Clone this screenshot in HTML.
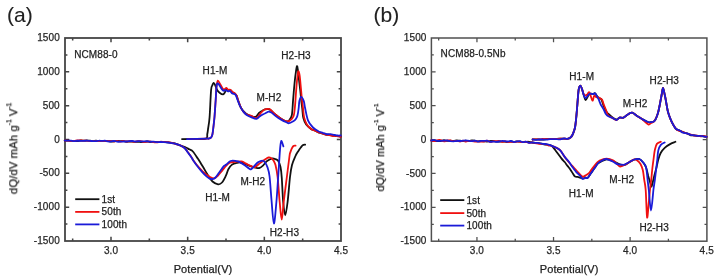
<!DOCTYPE html>
<html><head><meta charset="utf-8"><title>dQ/dV</title>
<style>html,body{margin:0;padding:0;background:#fff;}body{width:717px;height:280px;overflow:hidden;}svg{display:block;}text{will-change:transform;stroke:#222;stroke-width:0.25px;letter-spacing:0.1px}.big{stroke-width:0.1px;letter-spacing:0}</style>
</head><body>
<svg width="717" height="280" viewBox="0 0 717 280" font-family='"Liberation Sans", sans-serif'>
<rect width="717" height="280" fill="#fff"/>
<text class="big" x="7" y="22.2" font-size="21" fill="#222">(a)</text>
<text class="big" x="373.5" y="21.8" font-size="21" fill="#222">(b)</text>
<rect x="65.00" y="38.00" width="276.00" height="203.00" fill="none" stroke="#454545" stroke-width="1.8"/>
<path d="M72.67,241.00 v-2.4 M72.67,38.00 v2.4 M111.00,241.00 v-4.2 M111.00,38.00 v4.2 M149.33,241.00 v-2.4 M149.33,38.00 v2.4 M187.67,241.00 v-4.2 M187.67,38.00 v4.2 M226.00,241.00 v-2.4 M226.00,38.00 v2.4 M264.33,241.00 v-4.2 M264.33,38.00 v4.2 M302.67,241.00 v-2.4 M302.67,38.00 v2.4 M65.00,54.92 h2.4 M341.00,54.92 h-2.4 M65.00,71.83 h4.2 M341.00,71.83 h-4.2 M65.00,88.75 h2.4 M341.00,88.75 h-2.4 M65.00,105.67 h4.2 M341.00,105.67 h-4.2 M65.00,122.58 h2.4 M341.00,122.58 h-2.4 M65.00,139.50 h4.2 M341.00,139.50 h-4.2 M65.00,156.42 h2.4 M341.00,156.42 h-2.4 M65.00,173.33 h4.2 M341.00,173.33 h-4.2 M65.00,190.25 h2.4 M341.00,190.25 h-2.4 M65.00,207.17 h4.2 M341.00,207.17 h-4.2 M65.00,224.08 h2.4 M341.00,224.08 h-2.4" stroke="#454545" stroke-width="1.53" fill="none"/>
<text x="59.8" y="41.1" text-anchor="end" fill="#2a2a2a" font-size="10">1500</text>
<text x="59.8" y="74.9" text-anchor="end" fill="#2a2a2a" font-size="10">1000</text>
<text x="59.8" y="108.8" text-anchor="end" fill="#2a2a2a" font-size="10">500</text>
<text x="59.8" y="142.6" text-anchor="end" fill="#2a2a2a" font-size="10">0</text>
<text x="59.8" y="176.4" text-anchor="end" fill="#2a2a2a" font-size="10">-500</text>
<text x="59.8" y="210.3" text-anchor="end" fill="#2a2a2a" font-size="10">-1000</text>
<text x="59.8" y="244.1" text-anchor="end" fill="#2a2a2a" font-size="10">-1500</text>
<text x="111.0" y="253.6" text-anchor="middle" fill="#2a2a2a" font-size="10">3.0</text>
<text x="187.7" y="253.6" text-anchor="middle" fill="#2a2a2a" font-size="10">3.5</text>
<text x="264.3" y="253.6" text-anchor="middle" fill="#2a2a2a" font-size="10">4.0</text>
<text x="341.0" y="253.6" text-anchor="middle" fill="#2a2a2a" font-size="10">4.5</text>
<text x="203.0" y="272.6" text-anchor="middle" fill="#222" font-size="11">Potential(V)</text>
<text transform="translate(17.2,148.4) rotate(-90)" text-anchor="middle" fill="#222" font-size="11.3">dQ/dV mAh g<tspan font-size="6.3" dy="-5.6">-1</tspan><tspan dy="5.6"> V</tspan><tspan font-size="6.3" dy="-5.6">-1</tspan></text>
<rect x="431.40" y="38.00" width="275.50" height="203.20" fill="none" stroke="#505050" stroke-width="1.5"/>
<path d="M438.66,241.20 v-2.4 M438.66,38.00 v2.4 M476.95,241.20 v-4.2 M476.95,38.00 v4.2 M515.24,241.20 v-2.4 M515.24,38.00 v2.4 M553.53,241.20 v-4.2 M553.53,38.00 v4.2 M591.83,241.20 v-2.4 M591.83,38.00 v2.4 M630.12,241.20 v-4.2 M630.12,38.00 v4.2 M668.41,241.20 v-2.4 M668.41,38.00 v2.4 M431.40,54.93 h2.4 M706.90,54.93 h-2.4 M431.40,71.87 h4.2 M706.90,71.87 h-4.2 M431.40,88.80 h2.4 M706.90,88.80 h-2.4 M431.40,105.73 h4.2 M706.90,105.73 h-4.2 M431.40,122.67 h2.4 M706.90,122.67 h-2.4 M431.40,139.60 h4.2 M706.90,139.60 h-4.2 M431.40,156.53 h2.4 M706.90,156.53 h-2.4 M431.40,173.47 h4.2 M706.90,173.47 h-4.2 M431.40,190.40 h2.4 M706.90,190.40 h-2.4 M431.40,207.33 h4.2 M706.90,207.33 h-4.2 M431.40,224.27 h2.4 M706.90,224.27 h-2.4" stroke="#505050" stroke-width="1.27" fill="none"/>
<text x="426.5" y="41.1" text-anchor="end" fill="#2a2a2a" font-size="10">1500</text>
<text x="426.5" y="75.0" text-anchor="end" fill="#2a2a2a" font-size="10">1000</text>
<text x="426.5" y="108.8" text-anchor="end" fill="#2a2a2a" font-size="10">500</text>
<text x="426.5" y="142.7" text-anchor="end" fill="#2a2a2a" font-size="10">0</text>
<text x="426.5" y="176.6" text-anchor="end" fill="#2a2a2a" font-size="10">-500</text>
<text x="426.5" y="210.4" text-anchor="end" fill="#2a2a2a" font-size="10">-1000</text>
<text x="426.5" y="244.3" text-anchor="end" fill="#2a2a2a" font-size="10">-1500</text>
<text x="476.9" y="253.8" text-anchor="middle" fill="#2a2a2a" font-size="10">3.0</text>
<text x="553.5" y="253.8" text-anchor="middle" fill="#2a2a2a" font-size="10">3.5</text>
<text x="630.1" y="253.8" text-anchor="middle" fill="#2a2a2a" font-size="10">4.0</text>
<text x="706.7" y="253.8" text-anchor="middle" fill="#2a2a2a" font-size="10">4.5</text>
<text x="569.1" y="272.8" text-anchor="middle" fill="#222" font-size="11">Potential(V)</text>
<text transform="translate(384.0,147.5) rotate(-90)" text-anchor="middle" fill="#222" font-size="10.9">dQ/dV mAh g<tspan font-size="6.1" dy="-5.6">-1</tspan><tspan dy="5.6"> V</tspan><tspan font-size="6.1" dy="-5.6">-1</tspan></text>
<text x="74.2" y="57.6" font-size="10" fill="#222" text-anchor="start">NCM88-0</text>
<text x="202.6" y="74.0" font-size="10" fill="#222" text-anchor="start">H1-M</text>
<text x="256.5" y="100.9" font-size="10" fill="#222" text-anchor="start">M-H2</text>
<text x="281.3" y="58.7" font-size="10" fill="#222" text-anchor="start">H2-H3</text>
<text x="205.2" y="200.6" font-size="10" fill="#222" text-anchor="start">H1-M</text>
<text x="240.4" y="184.9" font-size="10" fill="#222" text-anchor="start">M-H2</text>
<text x="269.7" y="235.6" font-size="10" fill="#222" text-anchor="start">H2-H3</text>
<text x="440.6" y="56.5" font-size="10" fill="#222" text-anchor="start">NCM88-0.5Nb</text>
<text x="569.3" y="79.9" font-size="10" fill="#222" text-anchor="start">H1-M</text>
<text x="622.7" y="106.7" font-size="10" fill="#222" text-anchor="start">M-H2</text>
<text x="649.6" y="83.8" font-size="10" fill="#222" text-anchor="start">H2-H3</text>
<text x="568.8" y="197.2" font-size="10" fill="#222" text-anchor="start">H1-M</text>
<text x="609.3" y="183.0" font-size="10" fill="#222" text-anchor="start">M-H2</text>
<text x="639.4" y="231.0" font-size="10" fill="#222" text-anchor="start">H2-H3</text>
<path d="M75.2,199.2 H99.4" stroke="#111" stroke-width="1.8"/>
<text x="101.6" y="202.7" font-size="10" fill="#222">1st</text>
<path d="M75.2,211.9 H99.4" stroke="#f01010" stroke-width="1.8"/>
<text x="101.6" y="215.4" font-size="10" fill="#222">50th</text>
<path d="M75.2,224.4 H99.4" stroke="#1a1ad8" stroke-width="1.8"/>
<text x="101.6" y="227.9" font-size="10" fill="#222">100th</text>
<path d="M440.2,200.1 H464.3" stroke="#111" stroke-width="1.8"/>
<text x="466.4" y="203.6" font-size="10" fill="#222">1st</text>
<path d="M440.2,213.1 H464.3" stroke="#f01010" stroke-width="1.8"/>
<text x="466.4" y="216.6" font-size="10" fill="#222">50th</text>
<path d="M440.2,225.6 H464.3" stroke="#1a1ad8" stroke-width="1.8"/>
<text x="466.4" y="229.1" font-size="10" fill="#222">100th</text>
<path d="M182.0,139.1 C184.2,139.1 191.0,139.1 195.0,139.0 C199.0,138.9 203.9,139.4 206.0,138.6 C208.1,137.8 206.9,135.8 207.3,134.0 C207.7,132.2 207.8,130.8 208.2,128.0 C208.6,125.2 209.1,123.3 209.6,117.0 C210.1,110.7 210.6,95.3 211.1,90.0 C211.6,84.7 211.9,86.6 212.3,85.4 C212.7,84.2 213.2,83.0 213.6,82.9 C214.0,82.8 214.3,83.5 214.9,84.6 C215.5,85.7 216.2,88.3 217.0,89.7 C217.8,91.1 218.6,91.9 219.6,92.7 C220.6,93.5 222.2,94.4 223.0,94.4 C223.8,94.4 224.1,93.5 224.7,92.7 C225.3,91.9 225.8,90.0 226.4,89.5 C227.0,89.0 227.4,89.8 228.1,89.9 C228.8,90.0 229.6,89.6 230.3,90.0 C231.0,90.4 231.7,91.6 232.4,92.2 C233.1,92.8 233.9,92.8 234.6,93.4 C235.3,94.0 236.1,94.9 236.7,96.0 C237.3,97.1 237.3,98.1 238.0,100.0 C238.7,101.9 239.6,105.4 240.9,107.6 C242.2,109.8 244.0,112.0 245.8,113.4 C247.6,114.9 249.9,115.8 251.6,116.3 C253.3,116.8 254.8,117.1 256.0,116.6 C257.2,116.0 258.0,113.9 259.0,113.0 C260.0,112.1 261.0,111.6 262.0,111.0 C263.0,110.4 263.9,109.7 265.0,109.4 C266.1,109.1 267.7,109.1 268.6,109.2 C269.5,109.3 269.2,109.1 270.4,110.0 C271.6,110.9 273.9,113.2 275.7,114.7 C277.5,116.2 279.3,117.7 281.1,118.8 C282.9,119.9 285.1,121.1 286.4,121.4 C287.7,121.7 288.1,121.5 289.0,120.5 C289.9,119.5 291.1,118.6 291.8,115.2 C292.5,111.8 292.7,104.5 293.1,100.0 C293.5,95.5 293.7,92.3 294.1,88.0 C294.5,83.7 295.1,77.6 295.6,74.0 C296.1,70.4 296.5,66.9 296.9,66.2 C297.3,65.5 297.5,67.7 297.9,70.0 C298.2,72.3 298.6,76.7 299.0,80.0 C299.4,83.3 299.8,86.7 300.2,90.0 C300.6,93.3 300.9,97.0 301.2,100.0 C301.5,103.0 301.8,105.0 302.2,108.0 C302.6,111.0 302.6,115.0 303.3,117.8 C304.0,120.6 304.9,122.7 306.2,124.6 C307.5,126.5 309.6,128.0 311.0,129.0 C312.4,130.0 313.3,129.8 314.4,130.3 C315.6,130.8 316.7,131.6 317.9,132.1 C319.1,132.6 320.5,132.9 321.8,133.3 C323.1,133.7 324.4,134.3 325.7,134.5 C327.0,134.8 328.1,134.7 329.4,134.8 C330.6,135.0 331.7,135.3 333.0,135.5 C334.3,135.7 335.6,135.8 336.9,136.0 C338.2,136.2 340.1,136.5 340.8,136.6" stroke="#111" stroke-width="1.8" fill="none" stroke-linejoin="round" stroke-linecap="round"/>
<path d="M188.0,139.1 C191.0,139.0 202.6,138.8 206.0,138.7 C209.4,138.6 207.7,138.9 208.6,138.7 C209.5,138.5 210.5,138.2 211.2,137.4 C211.8,136.6 212.2,135.6 212.5,134.0 C212.8,132.4 213.0,130.8 213.3,128.0 C213.6,125.2 214.1,121.7 214.5,117.0 C214.9,112.3 215.3,105.2 215.7,100.0 C216.0,94.8 216.2,89.2 216.6,86.0 C217.0,82.8 217.3,80.9 217.9,80.7 C218.5,80.5 219.5,83.2 220.4,84.6 C221.3,86.0 222.4,88.7 223.4,89.3 C224.4,89.9 225.6,87.9 226.4,88.0 C227.2,88.1 227.4,89.4 228.1,89.7 C228.8,90.0 229.6,89.3 230.3,89.7 C231.0,90.1 231.7,91.3 232.4,91.9 C233.1,92.5 233.9,92.5 234.6,93.1 C235.3,93.7 236.1,94.5 236.7,95.7 C237.3,96.9 237.3,98.0 238.0,100.0 C238.7,102.0 240.1,105.8 240.9,107.6 C241.7,109.4 241.8,109.6 242.7,110.7 C243.6,111.8 244.8,113.4 246.3,114.3 C247.8,115.2 249.9,115.4 251.6,116.0 C253.3,116.6 255.0,118.3 256.5,117.9 C258.0,117.5 259.2,114.8 260.5,113.4 C261.8,112.1 262.8,110.5 264.1,109.8 C265.5,109.0 267.6,108.9 268.6,108.9 C269.7,108.9 269.2,108.8 270.4,109.8 C271.6,110.8 273.9,113.2 275.7,114.7 C277.5,116.2 279.3,117.7 281.1,118.8 C282.9,119.9 284.9,121.1 286.4,121.4 C287.9,121.7 288.8,121.4 290.0,120.5 C291.2,119.6 292.8,118.4 293.6,116.0 C294.4,113.6 294.6,110.3 295.0,106.0 C295.4,101.7 295.8,94.7 296.2,90.0 C296.6,85.3 296.9,81.1 297.3,78.0 C297.7,74.9 297.9,71.6 298.3,71.3 C298.7,71.0 299.3,73.2 299.7,76.0 C300.1,78.8 300.5,84.0 300.9,88.0 C301.3,92.0 301.6,96.7 302.0,100.0 C302.4,103.3 302.6,105.0 303.0,108.0 C303.4,111.0 303.5,115.0 304.2,117.8 C304.9,120.6 305.8,122.9 307.0,124.8 C308.2,126.7 310.2,128.3 311.5,129.2 C312.8,130.1 313.6,130.0 314.7,130.5 C315.8,131.0 316.7,131.7 317.9,132.2 C319.1,132.6 320.5,132.8 321.8,133.2 C323.1,133.7 324.4,134.4 325.7,134.7 C327.0,135.0 328.1,134.9 329.4,135.1 C330.6,135.3 331.7,135.8 333.0,136.0 C334.3,136.1 335.6,135.8 336.9,136.0 C338.2,136.1 340.1,136.7 340.8,136.8" stroke="#f01010" stroke-width="1.8" fill="none" stroke-linejoin="round" stroke-linecap="round"/>
<path d="M187.0,139.1 C190.2,139.0 202.4,138.8 206.0,138.7 C209.6,138.6 207.7,138.9 208.6,138.7 C209.5,138.5 210.5,138.2 211.2,137.4 C211.8,136.6 212.2,135.6 212.5,134.0 C212.8,132.4 213.0,130.8 213.3,128.0 C213.6,125.2 214.1,121.7 214.5,117.0 C214.9,112.3 215.3,105.2 215.7,100.0 C216.0,94.8 216.2,88.8 216.6,86.0 C217.0,83.2 217.3,83.2 217.9,83.3 C218.5,83.3 219.2,85.1 220.0,86.3 C220.8,87.5 222.1,90.0 223.0,90.6 C223.9,91.2 224.8,90.0 225.6,90.1 C226.4,90.2 227.4,91.2 228.1,91.4 C228.8,91.6 229.2,90.6 229.9,91.0 C230.6,91.4 231.7,93.1 232.4,93.6 C233.1,94.1 233.5,93.7 234.1,94.0 C234.7,94.3 235.2,94.3 235.8,95.3 C236.4,96.3 236.9,98.2 237.6,100.0 C238.3,101.8 239.2,104.2 240.0,106.0 C240.8,107.8 241.6,109.2 242.7,110.7 C243.8,112.2 244.8,113.6 246.3,114.7 C247.8,115.8 249.9,116.7 251.6,117.4 C253.3,118.1 255.2,119.0 256.5,118.8 C257.8,118.6 258.5,117.2 259.6,116.5 C260.7,115.8 262.0,115.0 263.2,114.3 C264.4,113.6 265.9,113.0 266.8,112.5 C267.7,112.0 267.9,111.6 268.6,111.6 C269.4,111.6 270.1,111.8 271.3,112.5 C272.5,113.2 274.1,114.9 275.7,116.1 C277.3,117.3 279.3,118.6 281.1,119.6 C282.9,120.6 285.1,121.7 286.4,122.3 C287.7,122.9 287.9,123.4 289.1,123.2 C290.3,123.0 292.5,121.6 293.6,121.0 C294.7,120.4 294.9,120.4 295.5,119.5 C296.1,118.6 296.9,117.7 297.4,115.8 C297.9,113.9 298.4,110.5 298.7,108.0 C299.0,105.5 299.0,102.8 299.4,101.0 C299.8,99.2 300.5,96.9 301.2,96.9 C301.9,96.9 303.0,99.1 303.7,100.9 C304.4,102.8 304.4,104.7 305.1,108.0 C305.8,111.3 306.8,117.5 308.1,120.7 C309.4,124.0 311.2,125.7 313.0,127.5 C314.8,129.3 317.3,130.6 318.9,131.5 C320.5,132.3 321.5,132.3 322.8,132.8 C324.1,133.2 325.4,133.9 326.7,134.2 C328.0,134.4 329.3,134.1 330.6,134.2 C331.9,134.4 333.3,134.8 334.5,135.0 C335.7,135.2 336.6,135.4 337.6,135.5 C338.7,135.6 340.3,135.5 340.8,135.5" stroke="#1a1ad8" stroke-width="1.8" fill="none" stroke-linejoin="round" stroke-linecap="round"/>
<path d="M64.7,140.6 C65.2,140.6 66.8,140.4 67.9,140.4 C68.9,140.5 70.0,140.8 71.0,140.8 C72.1,140.9 73.1,140.8 74.2,140.9 C75.2,140.9 76.3,141.1 77.3,141.1 C78.4,141.0 79.5,140.6 80.5,140.5 C81.6,140.4 82.6,140.6 83.7,140.6 C84.7,140.6 85.8,140.5 86.8,140.5 C87.9,140.6 89.0,140.6 90.0,140.7 C91.0,140.8 92.0,141.2 93.0,141.2 C94.0,141.1 95.0,140.7 96.0,140.6 C97.0,140.6 98.0,141.0 99.0,141.0 C100.0,141.1 101.0,140.8 102.0,140.8 C103.0,140.8 104.0,140.9 105.0,140.9 C106.0,141.0 107.0,141.0 108.0,141.1 C109.0,141.2 110.0,141.4 111.0,141.5 C112.0,141.5 113.0,141.4 114.0,141.3 C115.0,141.2 116.0,140.9 117.0,140.8 C118.0,140.8 119.0,141.1 120.0,141.1 C121.0,141.1 122.0,140.9 123.0,141.0 C124.0,141.1 125.0,141.6 126.0,141.7 C127.0,141.8 128.0,141.7 129.0,141.7 C130.0,141.7 131.0,141.7 132.0,141.7 C133.0,141.8 134.0,141.8 135.0,141.8 C136.0,141.8 137.0,141.7 138.0,141.8 C139.0,141.8 140.0,142.0 141.0,142.0 C142.0,142.0 143.0,142.0 144.0,141.9 C145.0,141.8 146.0,141.4 147.0,141.4 C148.0,141.5 148.9,142.0 150.0,142.0 C151.1,142.1 152.3,141.8 153.5,141.8 C154.7,141.8 155.8,142.1 157.0,142.1 C158.2,142.2 159.3,142.1 160.5,142.1 C161.7,142.0 162.8,142.0 164.0,142.0 C165.2,142.1 166.7,142.3 168.0,142.4 C169.3,142.6 170.7,142.7 172.0,142.9 C173.3,143.2 174.7,143.4 176.0,143.8 C177.3,144.2 178.5,144.8 180.0,145.3 C181.5,145.8 183.4,146.3 185.0,147.0 C186.6,147.7 188.0,148.6 189.3,149.3 C190.6,150.1 191.5,150.0 192.9,151.5 C194.3,153.0 196.5,156.6 197.8,158.5 C199.1,160.4 199.7,161.5 200.5,162.8 C201.3,164.1 201.6,164.6 202.8,166.5 C204.0,168.4 205.9,172.0 207.5,174.5 C209.1,177.0 210.7,179.9 212.5,181.5 C214.3,183.1 216.5,184.1 218.1,184.3 C219.7,184.5 220.7,183.9 222.0,182.5 C223.3,181.1 224.8,177.9 225.9,175.7 C227.0,173.4 227.4,170.9 228.5,169.0 C229.6,167.1 231.0,165.4 232.3,164.4 C233.7,163.4 235.2,163.2 236.6,162.9 C238.0,162.6 239.1,162.3 240.5,162.5 C241.9,162.7 243.4,163.2 245.0,163.8 C246.6,164.4 248.4,165.5 250.3,166.2 C252.2,166.9 254.7,167.6 256.3,167.9 C257.9,168.2 258.6,168.3 259.7,167.9 C260.8,167.5 262.0,166.4 263.2,165.3 C264.4,164.2 265.5,162.4 266.6,161.4 C267.7,160.4 269.0,159.8 270.0,159.3 C271.0,158.8 271.5,158.3 272.5,158.3 C273.5,158.3 275.0,158.9 276.0,159.3 C277.0,159.8 277.6,159.7 278.3,161.0 C279.1,162.3 279.9,164.2 280.5,167.0 C281.1,169.8 281.4,172.2 281.8,178.0 C282.2,183.8 282.6,195.8 283.2,202.0 C283.8,208.2 284.5,215.3 285.2,215.3 C285.9,215.3 286.8,208.4 287.6,202.0 C288.4,195.6 289.3,183.2 290.0,177.0 C290.7,170.8 291.1,168.5 292.0,165.0 C292.9,161.5 294.5,158.3 295.5,156.0 C296.5,153.7 297.2,152.8 298.1,151.4 C299.0,150.0 299.8,148.8 300.6,147.8 C301.4,146.8 301.9,145.8 302.7,145.3 C303.5,144.8 304.8,144.7 305.2,144.6" stroke="#111" stroke-width="1.8" fill="none" stroke-linejoin="round" stroke-linecap="round"/>
<path d="M64.7,140.6 C65.2,140.6 66.8,140.6 67.9,140.6 C68.9,140.7 70.0,140.8 71.0,140.8 C72.1,140.9 73.1,140.9 74.2,140.9 C75.2,140.8 76.3,140.5 77.3,140.4 C78.4,140.3 79.5,140.3 80.5,140.3 C81.6,140.4 82.6,140.7 83.7,140.7 C84.7,140.8 85.8,140.6 86.8,140.7 C87.9,140.7 89.0,141.1 90.0,141.2 C91.0,141.3 92.0,141.1 93.0,141.1 C94.0,141.1 95.0,141.1 96.0,141.1 C97.0,141.1 98.0,141.1 99.0,141.1 C100.0,141.1 101.0,141.3 102.0,141.2 C103.0,141.2 104.0,140.8 105.0,140.8 C106.0,140.8 107.0,141.1 108.0,141.1 C109.0,141.1 110.0,140.8 111.0,140.9 C112.0,141.0 113.0,141.6 114.0,141.6 C115.0,141.6 116.0,140.9 117.0,140.9 C118.0,140.9 119.0,141.6 120.0,141.6 C121.0,141.6 122.0,141.0 123.0,141.0 C124.0,141.0 125.0,141.5 126.0,141.5 C127.0,141.6 128.0,141.3 129.0,141.3 C130.0,141.2 131.0,141.3 132.0,141.4 C133.0,141.5 134.0,141.9 135.0,141.8 C136.0,141.8 137.0,141.2 138.0,141.1 C139.0,141.0 140.0,141.0 141.0,141.2 C142.0,141.3 143.0,141.9 144.0,142.0 C145.0,142.1 146.0,141.8 147.0,141.7 C148.0,141.6 148.9,141.2 150.0,141.3 C151.1,141.4 152.3,142.1 153.5,142.2 C154.7,142.4 155.8,142.4 157.0,142.3 C158.2,142.2 159.3,141.7 160.5,141.7 C161.7,141.6 162.8,141.9 164.0,142.0 C165.2,142.1 166.7,142.1 168.0,142.2 C169.3,142.4 170.7,142.5 172.0,142.8 C173.3,143.1 174.7,143.7 176.0,144.1 C177.3,144.5 178.5,144.6 180.0,145.3 C181.5,146.0 183.5,146.9 184.8,148.1 C186.1,149.3 187.0,150.9 188.0,152.3 C189.0,153.7 189.9,154.9 191.0,156.5 C192.1,158.1 193.1,160.1 194.5,162.0 C195.9,163.9 197.8,166.1 199.5,168.0 C201.2,169.9 203.2,172.0 205.0,173.5 C206.8,175.0 208.5,176.2 210.0,177.0 C211.5,177.8 212.9,178.7 214.2,178.4 C215.5,178.2 216.7,176.8 218.0,175.5 C219.3,174.2 220.6,172.4 222.0,170.8 C223.4,169.2 225.0,167.0 226.3,165.7 C227.6,164.3 228.3,163.3 229.7,162.7 C231.1,162.1 232.9,162.1 234.9,161.9 C236.9,161.7 239.8,161.1 241.7,161.4 C243.5,161.7 244.4,162.8 246.0,163.6 C247.6,164.4 249.8,165.6 251.2,166.2 C252.6,166.8 253.3,167.8 254.6,167.4 C255.9,167.0 257.6,165.0 258.9,164.0 C260.2,163.0 261.0,162.3 262.3,161.4 C263.6,160.5 265.6,159.1 266.6,158.4 C267.7,157.8 267.9,157.6 268.6,157.5 C269.3,157.4 270.2,157.5 271.0,158.0 C271.8,158.5 272.8,159.3 273.5,160.5 C274.2,161.7 274.8,162.2 275.5,165.0 C276.2,167.8 276.9,170.8 277.6,177.0 C278.3,183.2 279.0,194.9 279.7,202.0 C280.4,209.1 281.0,219.5 281.7,219.5 C282.4,219.5 282.8,209.4 283.7,202.0 C284.6,194.6 286.1,182.7 287.1,175.0 C288.1,167.3 289.0,159.8 289.5,156.0 C290.0,152.2 289.9,153.6 290.3,152.4 C290.7,151.2 291.1,150.0 291.6,148.9 C292.1,147.8 292.7,146.6 293.4,146.0 C294.1,145.4 295.2,145.7 295.6,145.6" stroke="#f01010" stroke-width="1.8" fill="none" stroke-linejoin="round" stroke-linecap="round"/>
<path d="M64.7,140.6 C65.2,140.6 66.8,140.6 67.9,140.6 C68.9,140.6 70.0,140.6 71.0,140.7 C72.1,140.8 73.1,141.1 74.2,141.1 C75.2,141.1 76.3,140.8 77.3,140.7 C78.4,140.7 79.5,140.8 80.5,140.8 C81.6,140.8 82.6,140.9 83.7,140.9 C84.7,140.9 85.8,140.6 86.8,140.6 C87.9,140.6 89.0,140.8 90.0,140.9 C91.0,141.0 92.0,141.0 93.0,141.1 C94.0,141.1 95.0,141.3 96.0,141.2 C97.0,141.2 98.0,140.7 99.0,140.7 C100.0,140.6 101.0,140.9 102.0,140.9 C103.0,140.9 104.0,140.6 105.0,140.7 C106.0,140.8 107.0,141.3 108.0,141.4 C109.0,141.5 110.0,141.5 111.0,141.4 C112.0,141.3 113.0,140.8 114.0,140.8 C115.0,140.9 116.0,141.5 117.0,141.7 C118.0,141.8 119.0,141.8 120.0,141.7 C121.0,141.7 122.0,141.5 123.0,141.5 C124.0,141.4 125.0,141.5 126.0,141.5 C127.0,141.4 128.0,141.2 129.0,141.1 C130.0,141.0 131.0,141.0 132.0,141.0 C133.0,141.1 134.0,141.5 135.0,141.5 C136.0,141.5 137.0,141.2 138.0,141.1 C139.0,141.1 140.0,141.3 141.0,141.3 C142.0,141.3 143.0,141.4 144.0,141.4 C145.0,141.4 146.0,141.2 147.0,141.2 C148.0,141.3 148.9,141.6 150.0,141.7 C151.1,141.8 152.3,141.7 153.5,141.7 C154.7,141.8 155.8,142.2 157.0,142.2 C158.2,142.3 159.3,142.0 160.5,142.0 C161.7,142.0 162.8,142.1 164.0,142.2 C165.2,142.3 166.7,142.4 168.0,142.5 C169.3,142.7 170.7,142.9 172.0,143.1 C173.3,143.4 174.7,143.6 176.0,144.0 C177.3,144.3 178.6,144.6 180.0,145.3 C181.4,146.0 183.2,146.9 184.5,148.0 C185.8,149.1 186.5,150.7 187.5,152.0 C188.5,153.3 189.4,154.4 190.5,156.0 C191.6,157.6 192.9,159.9 194.0,161.5 C195.1,163.1 195.5,163.8 196.8,165.5 C198.1,167.2 200.4,170.0 202.0,171.8 C203.6,173.6 205.3,175.2 206.5,176.3 C207.7,177.4 208.3,177.9 209.3,178.4 C210.3,178.9 211.4,179.3 212.4,179.2 C213.4,179.0 214.4,178.6 215.5,177.5 C216.6,176.4 217.9,174.3 219.0,172.8 C220.1,171.3 221.2,169.6 222.0,168.5 C222.8,167.4 223.3,166.7 224.0,166.0 C224.7,165.3 225.2,165.3 226.3,164.5 C227.4,163.7 229.0,161.6 230.6,161.0 C232.2,160.4 234.3,160.8 235.7,161.0 C237.1,161.2 237.8,161.2 239.2,161.9 C240.6,162.6 242.6,163.8 244.3,164.9 C246.0,166.0 248.2,168.0 249.4,168.7 C250.6,169.4 250.3,169.7 251.2,169.2 C252.1,168.7 253.5,166.8 254.6,165.7 C255.7,164.5 256.7,163.2 258.0,162.3 C259.3,161.5 261.2,160.6 262.3,160.6 C263.4,160.6 264.0,161.2 264.9,162.3 C265.8,163.4 266.7,165.1 267.5,167.4 C268.3,169.7 268.8,170.6 269.5,176.0 C270.2,181.4 270.8,192.1 271.5,200.0 C272.2,207.9 273.1,223.2 273.9,223.5 C274.7,223.8 275.7,209.6 276.4,202.0 C277.1,194.4 277.6,185.0 278.1,178.0 C278.6,171.0 279.0,165.1 279.3,160.0 C279.6,154.9 279.9,150.7 280.2,147.5 C280.5,144.3 280.8,141.0 281.3,140.8 C281.8,140.6 283.0,145.5 283.4,146.4" stroke="#1a1ad8" stroke-width="1.8" fill="none" stroke-linejoin="round" stroke-linecap="round"/>
<path d="M532.6,139.5 C533.2,139.5 534.9,139.4 536.1,139.4 C537.2,139.4 538.4,139.4 539.6,139.5 C540.7,139.5 541.9,139.7 543.0,139.7 C544.2,139.6 545.4,139.2 546.5,139.1 C547.7,139.0 548.8,139.1 550.0,139.1 C551.2,139.0 552.3,138.9 553.5,138.8 C554.6,138.8 555.8,138.8 557.0,138.8 C558.1,138.8 559.3,138.6 560.4,138.6 C561.6,138.6 562.8,138.6 563.9,138.6 C565.1,138.7 566.3,139.0 567.4,138.8 C568.5,138.6 569.7,138.1 570.5,137.5 C571.3,136.9 571.7,136.4 572.3,135.3 C572.9,134.2 573.5,132.4 574.0,131.0 C574.5,129.6 574.7,129.2 575.1,127.0 C575.5,124.8 575.8,121.8 576.2,118.0 C576.6,114.2 577.0,108.8 577.4,104.0 C577.8,99.2 578.2,92.5 578.7,89.4 C579.2,86.3 579.8,85.6 580.4,85.6 C581.0,85.6 581.5,87.8 582.1,89.4 C582.7,91.0 583.3,93.6 583.9,95.4 C584.5,97.2 584.8,100.2 585.6,100.1 C586.4,100.0 587.8,96.1 588.6,95.0 C589.5,93.9 590.0,93.9 590.7,93.7 C591.4,93.5 592.2,94.2 592.9,94.1 C593.6,94.0 594.3,93.0 595.0,93.3 C595.7,93.6 596.2,95.1 597.0,96.0 C597.8,96.9 598.8,98.0 599.5,98.5 C600.2,99.0 600.6,97.9 601.4,99.3 C602.1,100.7 603.1,104.8 604.0,106.9 C604.9,109.0 605.7,110.7 606.6,112.0 C607.5,113.3 608.2,113.7 609.2,114.6 C610.2,115.5 611.5,116.8 612.7,117.6 C613.9,118.4 615.5,119.5 616.6,119.5 C617.7,119.5 618.4,117.9 619.5,117.6 C620.6,117.3 621.9,118.2 623.4,117.6 C624.9,117.0 626.8,115.0 628.3,114.2 C629.8,113.4 630.7,112.4 632.2,112.7 C633.7,113.0 635.5,115.0 637.1,116.1 C638.7,117.1 640.2,118.0 642.0,119.0 C643.8,120.0 646.4,121.5 647.9,122.0 C649.4,122.5 649.9,122.4 651.0,122.2 C652.1,122.0 653.5,122.3 654.6,120.8 C655.8,119.3 657.0,116.1 657.9,113.2 C658.8,110.3 659.4,106.6 660.0,103.6 C660.6,100.6 661.1,97.6 661.6,95.0 C662.1,92.4 662.5,88.0 663.0,88.0 C663.5,88.0 664.2,92.4 664.8,95.0 C665.4,97.6 665.9,100.8 666.4,103.6 C666.9,106.4 667.3,109.4 668.0,112.1 C668.7,114.8 669.8,117.5 670.7,119.7 C671.6,121.9 672.5,123.5 673.4,125.0 C674.3,126.5 675.1,128.1 676.1,129.0 C677.1,129.9 678.4,130.1 679.5,130.6 C680.7,131.2 681.8,131.8 683.0,132.2 C684.2,132.7 685.6,132.9 686.9,133.4 C688.2,133.9 689.6,135.0 690.8,135.3 C692.0,135.6 693.0,135.2 694.0,135.3 C695.1,135.4 696.2,135.6 697.3,135.8 C698.3,135.9 699.5,135.9 700.5,136.0 C701.5,136.0 702.5,136.1 703.5,136.3 C704.6,136.4 706.1,136.8 706.6,136.9" stroke="#111" stroke-width="1.8" fill="none" stroke-linejoin="round" stroke-linecap="round"/>
<path d="M532.6,139.5 C533.2,139.5 534.9,139.3 536.1,139.3 C537.2,139.3 538.4,139.4 539.6,139.4 C540.7,139.4 541.9,139.1 543.0,139.0 C544.2,139.0 545.4,139.2 546.5,139.2 C547.7,139.2 548.8,139.0 550.0,139.0 C551.2,138.9 552.3,138.8 553.5,138.8 C554.6,138.8 555.8,138.9 557.0,138.9 C558.1,138.9 559.3,138.7 560.4,138.7 C561.6,138.7 562.8,138.7 563.9,138.7 C565.1,138.8 566.3,139.0 567.4,138.8 C568.5,138.6 569.7,138.1 570.5,137.5 C571.3,136.9 571.7,136.4 572.3,135.3 C572.9,134.2 573.5,132.4 574.0,131.0 C574.5,129.6 574.7,129.2 575.1,127.0 C575.5,124.8 575.8,121.8 576.2,118.0 C576.6,114.2 577.0,108.8 577.4,104.0 C577.8,99.2 578.2,92.5 578.7,89.4 C579.2,86.3 579.8,85.6 580.4,85.6 C581.0,85.6 581.6,88.0 582.1,89.4 C582.6,90.8 583.1,93.0 583.6,94.0 C584.1,95.0 584.5,95.3 585.1,95.4 C585.7,95.5 586.6,95.1 587.3,94.6 C588.0,94.1 588.5,91.4 589.4,92.4 C590.2,93.4 591.6,100.0 592.4,100.6 C593.2,101.2 593.5,96.5 594.1,95.9 C594.8,95.3 595.4,96.8 596.3,97.1 C597.2,97.4 598.7,97.5 599.7,98.0 C600.7,98.5 601.6,99.1 602.3,100.1 C602.9,101.1 603.0,102.3 603.6,104.0 C604.2,105.7 605.2,108.1 606.0,110.0 C606.8,111.9 607.2,114.2 608.3,115.5 C609.4,116.8 611.3,117.3 612.7,118.1 C614.1,118.8 615.5,120.1 616.6,120.0 C617.7,119.9 618.4,118.0 619.5,117.6 C620.6,117.2 621.9,118.2 623.4,117.6 C624.9,117.0 626.8,115.0 628.3,114.2 C629.8,113.4 630.7,112.4 632.2,112.7 C633.7,113.0 635.5,115.0 637.1,116.1 C638.7,117.1 640.1,117.6 642.0,119.0 C643.9,120.4 646.8,123.7 648.3,124.4 C649.8,125.1 650.0,123.6 651.0,123.0 C652.0,122.4 653.5,122.4 654.6,120.8 C655.8,119.2 657.0,116.1 657.9,113.2 C658.8,110.3 659.4,106.6 660.0,103.6 C660.6,100.6 661.1,97.6 661.6,95.0 C662.1,92.4 662.5,88.0 663.0,88.0 C663.5,88.0 664.2,92.4 664.8,95.0 C665.4,97.6 665.9,100.8 666.4,103.6 C666.9,106.4 667.3,109.4 668.0,112.1 C668.7,114.8 669.8,117.5 670.7,119.7 C671.6,121.9 672.5,123.5 673.4,125.0 C674.3,126.5 675.1,128.0 676.1,129.0 C677.1,130.0 678.4,130.4 679.5,130.9 C680.7,131.4 681.8,131.6 683.0,132.0 C684.2,132.5 685.6,133.0 686.9,133.5 C688.2,133.9 689.6,134.3 690.8,134.6 C692.0,135.0 693.0,135.3 694.0,135.5 C695.1,135.7 696.2,135.6 697.3,135.7 C698.3,135.9 699.5,136.3 700.5,136.3 C701.5,136.3 702.5,135.9 703.5,136.0 C704.6,136.1 706.1,136.7 706.6,136.9" stroke="#f01010" stroke-width="1.8" fill="none" stroke-linejoin="round" stroke-linecap="round"/>
<path d="M532.6,139.5 C533.2,139.5 534.9,139.8 536.1,139.8 C537.2,139.7 538.4,139.4 539.6,139.3 C540.7,139.3 541.9,139.4 543.0,139.5 C544.2,139.5 545.4,139.7 546.5,139.6 C547.7,139.6 548.8,139.2 550.0,139.1 C551.2,139.0 552.3,139.2 553.5,139.2 C554.6,139.2 555.8,139.1 557.0,139.2 C558.1,139.2 559.3,139.5 560.4,139.4 C561.6,139.3 562.8,138.6 563.9,138.5 C565.1,138.4 566.3,139.0 567.4,138.8 C568.5,138.6 569.7,138.1 570.5,137.5 C571.3,136.9 571.7,136.4 572.3,135.3 C572.9,134.2 573.5,132.4 574.0,131.0 C574.5,129.6 574.7,129.2 575.1,127.0 C575.5,124.8 575.8,121.8 576.2,118.0 C576.6,114.2 577.0,108.8 577.4,104.0 C577.8,99.2 578.2,92.5 578.7,89.4 C579.2,86.3 579.8,85.6 580.4,85.6 C581.0,85.6 581.5,87.8 582.1,89.4 C582.7,91.0 583.3,94.0 583.9,95.4 C584.5,96.8 584.8,98.1 585.6,98.0 C586.4,97.9 587.8,95.3 588.6,94.6 C589.5,93.9 590.0,93.8 590.7,93.7 C591.4,93.6 592.2,94.2 592.9,94.1 C593.6,94.0 594.4,93.0 595.0,93.3 C595.6,93.6 596.1,94.8 596.7,95.9 C597.3,97.0 598.1,98.3 598.8,99.7 C599.4,101.1 599.9,102.8 600.6,104.3 C601.3,105.8 602.4,107.0 603.2,108.6 C604.1,110.2 604.9,112.4 605.7,113.7 C606.6,115.0 607.1,115.6 608.3,116.3 C609.5,117.0 611.3,117.5 612.7,118.1 C614.1,118.7 615.5,120.1 616.6,120.0 C617.7,119.9 618.4,118.0 619.5,117.6 C620.6,117.2 621.9,118.2 623.4,117.6 C624.9,117.0 626.8,115.0 628.3,114.2 C629.8,113.4 630.7,112.4 632.2,112.7 C633.7,113.0 635.5,115.0 637.1,116.1 C638.7,117.1 640.2,118.0 642.0,119.0 C643.8,120.0 646.4,121.5 647.9,122.0 C649.4,122.5 649.9,122.4 651.0,122.2 C652.1,122.0 653.5,122.3 654.6,120.8 C655.8,119.3 657.0,116.1 657.9,113.2 C658.8,110.3 659.4,106.6 660.0,103.6 C660.6,100.6 661.1,97.6 661.6,95.0 C662.1,92.4 662.5,88.0 663.0,88.0 C663.5,88.0 664.2,92.4 664.8,95.0 C665.4,97.6 665.9,100.8 666.4,103.6 C666.9,106.4 667.3,109.4 668.0,112.1 C668.7,114.8 669.8,117.5 670.7,119.7 C671.6,121.9 672.5,123.5 673.4,125.0 C674.3,126.5 675.1,128.1 676.1,129.0 C677.1,129.9 678.4,129.7 679.5,130.3 C680.7,130.9 681.8,132.2 683.0,132.7 C684.2,133.2 685.6,133.0 686.9,133.3 C688.2,133.7 689.6,134.5 690.8,134.9 C692.0,135.2 693.0,135.2 694.0,135.4 C695.1,135.6 696.2,135.8 697.3,135.9 C698.3,135.9 699.5,135.8 700.5,135.9 C701.5,135.9 702.5,136.2 703.5,136.4 C704.6,136.6 706.1,136.8 706.6,136.9" stroke="#1a1ad8" stroke-width="1.8" fill="none" stroke-linejoin="round" stroke-linecap="round"/>
<path d="M431.2,140.5 C431.7,140.6 433.3,141.0 434.4,141.1 C435.5,141.2 436.5,141.1 437.6,141.1 C438.7,141.2 439.7,141.3 440.8,141.1 C441.9,141.0 442.9,140.3 444.0,140.2 C445.1,140.2 446.1,140.8 447.2,140.9 C448.3,141.0 449.3,140.7 450.4,140.7 C451.5,140.7 452.5,141.0 453.6,140.9 C454.7,140.9 455.7,140.5 456.8,140.5 C457.9,140.5 459.0,140.6 460.0,140.6 C461.0,140.7 462.0,140.9 463.0,141.0 C464.0,141.0 465.0,140.7 466.0,140.7 C467.0,140.7 468.0,141.1 469.0,141.0 C470.0,141.0 471.0,140.6 472.0,140.5 C473.0,140.5 474.0,140.5 475.0,140.7 C476.0,140.8 477.0,141.4 478.0,141.4 C479.0,141.5 480.0,141.1 481.0,141.1 C482.0,141.1 483.0,141.2 484.0,141.3 C485.0,141.3 486.0,141.6 487.0,141.6 C488.0,141.5 489.0,141.3 490.0,141.1 C491.0,141.0 492.0,140.7 493.0,140.8 C494.0,140.9 495.0,141.6 496.0,141.7 C497.0,141.8 498.0,141.5 499.0,141.5 C500.0,141.5 501.0,141.6 502.0,141.6 C503.0,141.6 504.0,141.5 505.0,141.6 C506.0,141.7 507.0,142.1 508.0,142.0 C509.0,142.0 510.0,141.4 511.0,141.3 C512.0,141.3 513.0,141.8 514.0,141.9 C515.0,141.9 516.0,141.4 517.0,141.4 C518.0,141.4 519.0,141.6 520.0,141.7 C521.0,141.8 522.0,142.0 523.0,142.0 C524.0,142.1 525.0,141.9 526.0,141.8 C527.0,141.8 528.0,141.7 529.0,141.8 C530.1,141.9 531.1,142.3 532.1,142.5 C533.1,142.7 534.1,142.9 535.1,143.0 C536.1,143.1 537.0,143.0 538.1,143.1 C539.2,143.2 540.4,143.4 541.5,143.6 C542.7,143.9 543.9,144.4 545.0,144.6 C546.1,144.8 547.3,144.5 548.4,144.8 C549.5,145.0 550.6,144.9 551.8,145.9 C553.0,146.9 554.1,148.6 555.7,150.7 C557.3,152.8 560.1,156.7 561.6,158.6 C563.1,160.5 563.7,160.8 564.7,162.0 C565.7,163.2 566.5,164.6 567.5,165.9 C568.5,167.2 569.7,168.6 570.6,169.9 C571.5,171.2 572.3,172.7 573.0,173.8 C573.7,174.9 574.2,176.0 575.0,176.5 C575.8,177.0 576.9,176.7 577.7,176.9 C578.6,177.1 579.2,177.4 580.1,177.7 C581.0,178.0 581.9,178.5 582.8,178.5 C583.7,178.5 584.8,177.8 585.6,177.7 C586.5,177.6 587.0,178.5 587.9,177.7 C588.8,176.9 589.9,174.7 591.1,173.0 C592.3,171.3 593.8,169.1 595.0,167.5 C596.2,165.9 596.3,164.5 598.1,163.2 C599.9,161.9 603.3,159.9 605.8,159.5 C608.3,159.1 610.7,160.2 613.0,161.0 C615.3,161.8 617.9,163.8 619.8,164.4 C621.7,165.1 623.0,165.3 624.6,164.9 C626.2,164.5 627.9,162.9 629.5,162.0 C631.1,161.1 632.8,160.0 634.4,159.5 C636.0,159.0 637.8,158.5 639.3,159.0 C640.8,159.5 642.1,161.1 643.2,162.5 C644.3,163.9 645.3,165.2 646.1,167.5 C646.9,169.8 647.6,173.6 648.2,176.0 C648.9,178.4 649.5,180.2 650.0,182.0 C650.5,183.8 650.9,186.3 651.3,186.5 C651.7,186.7 652.1,184.9 652.6,183.0 C653.1,181.1 653.8,177.7 654.5,175.0 C655.2,172.3 656.0,169.6 656.6,167.0 C657.2,164.4 657.6,161.9 658.3,159.5 C659.0,157.1 659.7,154.6 660.8,152.7 C661.9,150.8 663.1,149.3 664.7,147.8 C666.3,146.3 668.7,144.9 670.5,143.9 C672.3,142.9 674.6,142.2 675.4,141.8" stroke="#111" stroke-width="1.8" fill="none" stroke-linejoin="round" stroke-linecap="round"/>
<path d="M431.2,140.5 C431.7,140.6 433.3,141.2 434.4,141.1 C435.5,141.1 436.5,140.3 437.6,140.2 C438.7,140.0 439.7,139.9 440.8,140.1 C441.9,140.3 442.9,141.3 444.0,141.3 C445.1,141.4 446.1,140.6 447.2,140.4 C448.3,140.2 449.3,140.3 450.4,140.4 C451.5,140.5 452.5,141.0 453.6,141.1 C454.7,141.1 455.7,140.7 456.8,140.8 C457.9,140.8 459.0,141.5 460.0,141.5 C461.0,141.5 462.0,140.7 463.0,140.7 C464.0,140.7 465.0,141.6 466.0,141.6 C467.0,141.6 468.0,140.9 469.0,140.9 C470.0,140.8 471.0,141.1 472.0,141.2 C473.0,141.4 474.0,141.6 475.0,141.7 C476.0,141.7 477.0,141.4 478.0,141.4 C479.0,141.4 480.0,141.7 481.0,141.7 C482.0,141.7 483.0,141.7 484.0,141.5 C485.0,141.3 486.0,140.7 487.0,140.7 C488.0,140.8 489.0,141.6 490.0,141.8 C491.0,141.9 492.0,141.5 493.0,141.4 C494.0,141.3 495.0,141.2 496.0,141.1 C497.0,141.1 498.0,140.9 499.0,141.0 C500.0,141.1 501.0,141.8 502.0,141.8 C503.0,141.9 504.0,141.5 505.0,141.5 C506.0,141.6 507.0,142.0 508.0,142.0 C509.0,142.1 510.0,141.8 511.0,141.8 C512.0,141.9 513.0,142.1 514.0,142.1 C515.0,142.1 516.0,141.7 517.0,141.6 C518.0,141.6 519.0,141.8 520.0,141.8 C521.0,141.9 522.0,142.0 523.0,142.0 C524.0,142.0 525.0,141.6 526.0,141.8 C527.0,141.9 528.0,142.8 529.0,142.8 C530.1,142.9 531.1,142.3 532.1,142.3 C533.1,142.4 534.1,142.9 535.1,143.1 C536.1,143.3 537.0,143.4 538.1,143.5 C539.2,143.7 540.4,143.8 541.5,143.9 C542.7,144.0 543.9,143.7 545.0,144.0 C546.1,144.2 547.3,145.2 548.4,145.5 C549.5,145.9 549.9,145.2 551.8,145.9 C553.7,146.6 557.5,148.0 559.6,149.8 C561.7,151.6 562.9,154.4 564.5,156.6 C566.1,158.8 568.0,161.2 569.5,163.0 C571.0,164.8 572.6,166.2 573.8,167.5 C575.0,168.8 575.5,169.5 576.9,171.0 C578.3,172.5 580.9,175.8 582.4,176.5 C583.9,177.2 584.5,175.9 585.6,175.4 C586.7,174.9 587.7,174.5 588.7,173.4 C589.8,172.3 590.6,170.8 591.9,169.1 C593.2,167.4 595.3,164.6 596.6,163.2 C597.9,161.8 598.1,161.3 599.7,160.5 C601.4,159.7 604.2,158.6 606.5,158.6 C608.8,158.6 611.6,159.6 613.4,160.5 C615.1,161.4 615.9,163.0 617.0,164.0 C618.1,165.0 618.7,166.3 620.0,166.5 C621.3,166.7 623.0,165.7 624.6,164.9 C626.2,164.2 627.9,162.9 629.5,162.0 C631.1,161.1 633.1,159.8 634.4,159.5 C635.7,159.2 636.3,159.8 637.3,160.5 C638.3,161.2 639.6,162.4 640.5,164.0 C641.4,165.6 642.2,167.4 642.8,170.0 C643.4,172.6 643.7,176.3 644.2,179.6 C644.7,182.9 645.2,183.7 645.7,190.0 C646.2,196.3 646.6,215.8 647.1,217.5 C647.6,219.2 648.5,204.9 649.0,200.0 C649.5,195.1 649.8,191.3 650.2,188.0 C650.6,184.7 650.8,183.3 651.2,180.0 C651.6,176.7 652.0,171.4 652.4,168.0 C652.8,164.6 653.1,162.5 653.5,159.5 C653.9,156.5 654.3,152.4 654.9,149.8 C655.5,147.2 655.9,145.2 656.9,143.9 C657.9,142.6 660.1,142.2 660.8,141.8" stroke="#f01010" stroke-width="1.8" fill="none" stroke-linejoin="round" stroke-linecap="round"/>
<path d="M431.2,140.5 C431.7,140.4 433.3,140.1 434.4,140.2 C435.5,140.2 436.5,140.7 437.6,140.8 C438.7,141.0 439.7,140.9 440.8,140.8 C441.9,140.8 442.9,140.8 444.0,140.7 C445.1,140.6 446.1,140.4 447.2,140.4 C448.3,140.5 449.3,141.0 450.4,141.2 C451.5,141.3 452.5,141.3 453.6,141.3 C454.7,141.2 455.7,141.0 456.8,141.0 C457.9,140.9 459.0,141.0 460.0,141.0 C461.0,141.0 462.0,140.8 463.0,140.7 C464.0,140.6 465.0,140.4 466.0,140.5 C467.0,140.5 468.0,140.8 469.0,140.9 C470.0,141.1 471.0,141.3 472.0,141.2 C473.0,141.2 474.0,140.6 475.0,140.6 C476.0,140.7 477.0,141.5 478.0,141.5 C479.0,141.6 480.0,141.0 481.0,140.9 C482.0,140.8 483.0,140.9 484.0,140.9 C485.0,140.9 486.0,140.6 487.0,140.7 C488.0,140.9 489.0,141.7 490.0,141.9 C491.0,142.0 492.0,141.6 493.0,141.6 C494.0,141.6 495.0,141.8 496.0,141.8 C497.0,141.8 498.0,141.7 499.0,141.5 C500.0,141.4 501.0,140.9 502.0,140.9 C503.0,140.8 504.0,141.1 505.0,141.2 C506.0,141.3 507.0,141.5 508.0,141.5 C509.0,141.4 510.0,140.9 511.0,141.0 C512.0,141.1 513.0,142.0 514.0,142.1 C515.0,142.1 516.0,141.6 517.0,141.4 C518.0,141.3 519.0,141.1 520.0,141.2 C521.0,141.3 522.0,142.1 523.0,142.2 C524.0,142.3 525.0,141.5 526.0,141.6 C527.0,141.7 528.0,142.7 529.0,142.8 C530.1,143.0 531.1,142.5 532.1,142.5 C533.1,142.5 534.1,142.8 535.1,142.8 C536.1,142.9 537.0,142.7 538.1,142.8 C539.2,143.0 540.4,143.5 541.5,143.7 C542.7,143.9 543.9,143.9 545.0,144.0 C546.1,144.2 547.3,144.3 548.4,144.6 C549.5,144.9 549.9,145.0 551.8,145.9 C553.7,146.8 557.5,148.0 559.6,149.8 C561.7,151.6 562.9,154.6 564.5,156.6 C566.1,158.6 567.8,160.3 569.1,162.0 C570.4,163.7 571.0,165.1 572.2,166.7 C573.4,168.3 574.8,170.3 576.1,171.8 C577.4,173.3 579.0,174.5 580.1,175.7 C581.2,176.9 581.9,178.6 582.8,178.9 C583.7,179.2 584.8,177.9 585.6,177.7 C586.5,177.5 587.0,178.5 587.9,177.7 C588.8,176.9 589.9,174.7 591.1,173.0 C592.3,171.3 593.8,169.1 595.0,167.5 C596.2,165.9 597.2,164.2 598.1,163.2 C599.0,162.2 599.2,162.2 600.5,161.5 C601.8,160.8 604.0,159.0 606.0,159.0 C608.0,159.0 610.7,160.6 612.6,161.5 C614.5,162.4 616.1,163.7 617.5,164.2 C618.9,164.7 619.8,164.5 621.0,164.6 C622.2,164.7 623.2,165.0 624.6,164.6 C626.0,164.2 627.9,162.8 629.5,162.0 C631.1,161.2 632.8,160.0 634.4,159.5 C636.0,159.0 637.8,158.5 639.3,159.0 C640.8,159.5 642.1,161.1 643.2,162.5 C644.3,163.9 645.4,164.9 646.1,167.5 C646.8,170.1 647.0,174.2 647.4,178.0 C647.8,181.8 648.2,184.6 648.8,190.0 C649.4,195.4 650.2,210.5 651.0,210.5 C651.8,210.5 652.8,195.2 653.4,190.0 C654.0,184.8 654.4,183.4 654.9,179.6 C655.4,175.8 656.0,170.3 656.4,167.0 C656.8,163.7 657.0,162.2 657.3,159.5 C657.6,156.8 657.7,152.9 658.3,150.5 C658.9,148.1 659.7,146.2 660.8,144.9 C661.9,143.6 664.1,142.8 664.7,142.4" stroke="#1a1ad8" stroke-width="1.8" fill="none" stroke-linejoin="round" stroke-linecap="round"/>
</svg>
</body></html>
